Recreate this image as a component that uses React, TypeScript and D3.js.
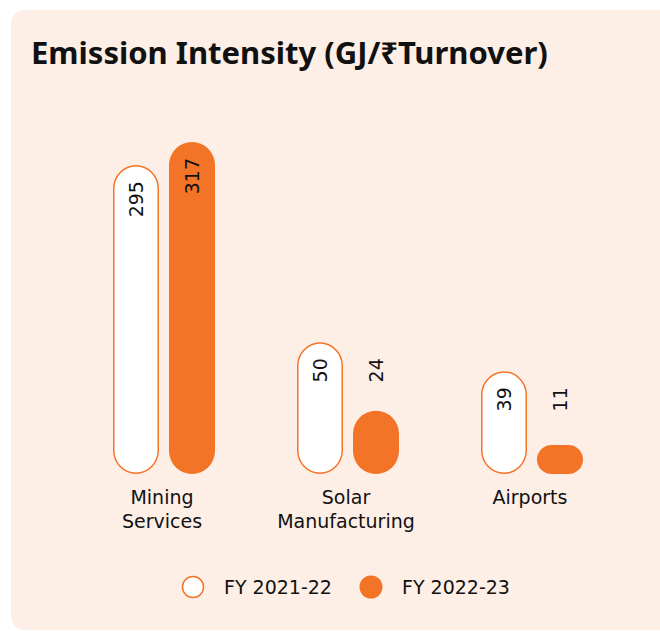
import { useEffect, useRef } from 'react';
import * as d3 from 'd3';

const categories = [['Mining', 'Services'], ['Solar', 'Manufacturing'], ['Airports']];
const seriesNames = ['FY 2021-22', 'FY 2022-23'];
const fy2122 = [295, 50, 39];
const fy2223 = [317, 24, 11];
// each group is drawn on its own scale in the source (broken scale)
const groupScaleMax = [317, 126, 126];

const ORANGE = '#f37327';
const BG = '#fdeee6';
const TITLE_FONT = '"Noto Sans", "DejaVu Sans", sans-serif';
const FONT = '"DejaVu Sans", "Noto Sans", sans-serif';

export default function App() {
  const svgRef = useRef<SVGSVGElement | null>(null);
  const width = 660;
  const height = 631;

  useEffect(() => {
    if (!svgRef.current) return;
    const svg = d3.select(svgRef.current);
    svg.selectAll('*').remove();

    // panel
    svg.append('rect')
      .attr('x', 11).attr('y', 10).attr('width', 680).attr('height', 620)
      .attr('rx', 14).attr('fill', BG);

    svg.append('text')
      .attr('x', 31).attr('y', 64)
      .attr('font-family', TITLE_FONT).attr('font-weight', 700).attr('font-size', 31)
      .attr('fill', '#111')
      .text('Emission Intensity (GJ/₹Turnover)');

    const baseY = 474;
    const maxH = 332;
    const x0 = d3.scaleBand<number>().domain(d3.range(categories.length)).range([72, 624]).padding(0);
    const x1 = d3.scaleBand<number>().domain([0, 1]).range([0, 102]).paddingInner(10 / 56).paddingOuter(0);
    const bw = x1.bandwidth();

    categories.forEach((cat, i) => {
      const y = d3.scaleLinear().domain([0, groupScaleMax[i]]).range([0, maxH]);
      const gx = x0(i)! + x0.bandwidth() / 2 - 51;
      const vals = [fy2122[i], fy2223[i]];
      let firstLabelY = 0;
      vals.forEach((v, s) => {
        const h = y(v);
        const bx = gx + x1(s)!;
        const top = baseY - h;
        const r = Math.min(bw, h) / 2;
        svg.append('rect')
          .attr('x', s === 0 ? bx + 0.75 : bx).attr('y', s === 0 ? top + 0.75 : top)
          .attr('width', s === 0 ? bw - 1.5 : bw).attr('height', s === 0 ? h - 1.5 : h)
          .attr('rx', r).attr('ry', r)
          .attr('fill', s === 0 ? '#fff' : ORANGE)
          .attr('stroke', s === 0 ? ORANGE : 'none')
          .attr('stroke-width', 1.5);

        let ly = top + 16;
        if (h < 80) ly = firstLabelY;
        if (s === 0) firstLabelY = ly;
        const cx = bx + bw / 2;
        svg.append('text')
          .attr('transform', `translate(${cx},${ly}) rotate(-90)`)
          .attr('text-anchor', 'end')
          .attr('dy', '0.36em')
          .attr('font-family', FONT).attr('font-size', 19)
          .attr('fill', '#111')
          .text(v);
      });

      const lx = x0(i)! + x0.bandwidth() / 2 - 2;
      const t = svg.append('text')
        .attr('x', lx).attr('y', 504)
        .attr('text-anchor', 'middle')
        .attr('font-family', FONT).attr('font-size', 19).attr('fill', '#111');
      cat.forEach((line, k) => {
        t.append('tspan').attr('x', lx).attr('dy', k === 0 ? 0 : 24).text(line);
      });
    });

    // legend
    const legendX = [193, 371];
    seriesNames.forEach((name, s) => {
      svg.append('circle')
        .attr('cx', legendX[s]).attr('cy', 587).attr('r', s === 0 ? 10.5 : 11.5)
        .attr('fill', s === 0 ? '#fff' : ORANGE)
        .attr('stroke', s === 0 ? ORANGE : 'none').attr('stroke-width', 1.5);
      svg.append('text')
        .attr('x', legendX[s] + 31).attr('y', 594)
        .attr('font-family', FONT).attr('font-size', 19).attr('fill', '#111')
        .text(name);
    });
  }, []);

  return (
    <svg ref={svgRef} width={width} height={height}
      style={{ position: 'absolute', left: 0, top: 0, display: 'block', background: '#fff' }} />
  );
}
